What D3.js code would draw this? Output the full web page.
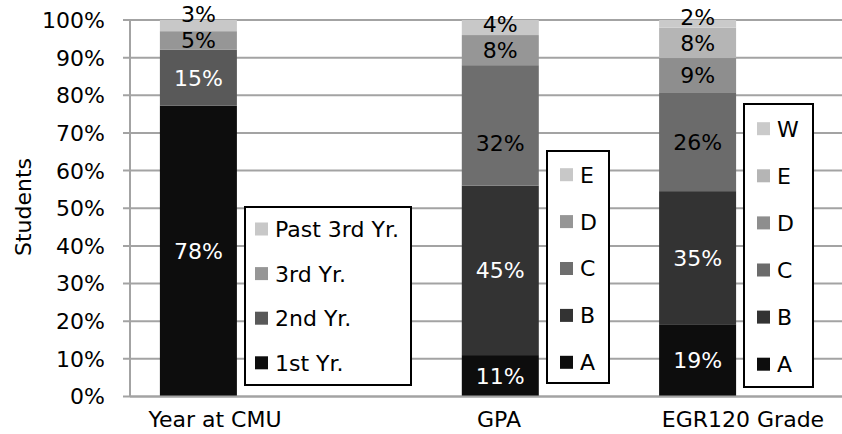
<!DOCTYPE html>
<html><head><meta charset="utf-8">
<script src="https://cdn.jsdelivr.net/npm/d3@7"></script>
<style>body{margin:0;background:#fff} svg{display:block} text{font-family:"DejaVu Sans","Liberation Sans",Arial,sans-serif}</style>
</head><body><svg id="c" width="842" height="434"></svg>
<script>
// ---- data ----
const categories = ["Year at CMU", "GPA", "EGR120 Grade"];
const yearSeries = ["1st Yr.", "2nd Yr.", "3rd Yr.", "Past 3rd Yr."];
const yearValues = [78, 15, 5, 3];
const gpaSeries = ["A", "B", "C", "D", "E"];
const gpaValues = [11, 45, 32, 8, 4];
const egrSeries = ["A", "B", "C", "D", "E", "W"];
const egrValues = [19, 35, 26, 9, 8, 2];
const yTickValues = [0, 0.1, 0.2, 0.3, 0.4, 0.5, 0.6, 0.7, 0.8, 0.9, 1];
const yTitle = "Students";

// ---- styles / layout ----
const yearColors = ["#0d0d0d", "#595959", "#969696", "#c8c8c8"];
const gpaColors = ["#0d0d0d", "#333333", "#6e6e6e", "#969696", "#c8c8c8"];
const egrColors = ["#0d0d0d", "#333333", "#6b6b6b", "#8e8e8e", "#b5b5b5", "#cacaca"];
// manual label nudges (px, downwards) as in the reference
const labelNudge = {"GPA|C": 18};
const groups = [
  {cat: categories[0], series: yearSeries, values: yearValues, colors: yearColors,
   legend: {x: 245, y: 207, w: 166, h: 178, first: 229, step: 44.6, pad: 10}},
  {cat: categories[1], series: gpaSeries, values: gpaValues, colors: gpaColors,
   legend: {x: 547, y: 151, w: 62, h: 232, first: 174.7, step: 46.9, pad: 13}},
  {cat: categories[2], series: egrSeries, values: egrValues, colors: egrColors,
   legend: {x: 744, y: 104, w: 69, h: 283, first: 128.7, step: 47.1, pad: 13}}
];

const svg = d3.select("#c");
const axisX = 130, right = 842;
const y = d3.scaleLinear().domain([0, 1]).range([396.5, 20]);
const xBar = d3.scaleOrdinal().domain(categories).range([198.4, 500.3, 697.6]);
const xLab = d3.scaleOrdinal().domain(categories).range([215, 499, 743]);
const barW = 77;
const fs = 22;
const minLabelGap = 26;

// gridlines
svg.append("g").selectAll("line").data(yTickValues).join("line")
  .attr("x1", axisX - 7).attr("x2", right)
  .attr("y1", d => y(d)).attr("y2", d => y(d))
  .attr("stroke", "#a3a3a3").attr("stroke-width", 2);
// y axis line
svg.append("line").attr("x1", axisX).attr("x2", axisX).attr("y1", y(1)).attr("y2", y(0))
  .attr("stroke", "#a3a3a3").attr("stroke-width", 2);
// tick labels
svg.append("g").selectAll("text").data(yTickValues).join("text")
  .attr("x", 105).attr("y", d => y(d)).attr("dy", "0.36em")
  .attr("text-anchor", "end").attr("font-size", fs).attr("fill", "#000")
  .text(d => d3.format(".0%")(d));
// y title
svg.append("text").attr("transform", "translate(31,207) rotate(-90)")
  .attr("text-anchor", "middle").attr("font-size", fs).text(yTitle);

// bars
groups.forEach(g => {
  const total = d3.sum(g.values);
  let cum = 0;
  const segs = g.values.map((v, i) => {
    const s = {v, y0: cum / total, y1: (cum + v) / total, color: g.colors[i], name: g.series[i]};
    cum += v; return s;
  });
  // label positions: centered, pushed up to avoid collisions
  let prev = Infinity;
  segs.forEach(s => {
    const c = y((s.y0 + s.y1) / 2) + (labelNudge[g.cat + "|" + s.name] || 0);
    s.ly = Math.min(c, prev - minLabelGap);
    prev = s.ly;
  });
  const cx = xBar(g.cat);
  const gg = svg.append("g");
  gg.selectAll("rect").data(segs).join("rect")
    .attr("x", cx - barW / 2).attr("width", barW)
    .attr("y", d => y(d.y1)).attr("height", d => y(d.y0) - y(d.y1))
    .attr("fill", d => d.color);
  gg.selectAll("text").data(segs).join("text")
    .attr("x", cx).attr("y", d => d.ly).attr("dy", "0.36em")
    .attr("text-anchor", "middle").attr("font-size", fs)
    .attr("fill", d => d3.hsl(d.color).l < 0.4 ? "#fff" : "#000")
    .text(d => d.v + "%");
  // category label
  svg.append("text").attr("x", xLab(g.cat)).attr("y", 427)
    .attr("text-anchor", "middle").attr("font-size", fs).text(g.cat);
  // legend
  const L = g.legend;
  const lg = svg.append("g");
  lg.append("rect").attr("x", L.x).attr("y", L.y).attr("width", L.w).attr("height", L.h)
    .attr("fill", "#fff").attr("stroke", "#000").attr("stroke-width", 2);
  const items = segs.slice().reverse();
  const it = lg.selectAll("g.it").data(items).join("g").attr("class", "it")
    .attr("transform", (d, i) => `translate(${L.x + L.pad},${L.first + i * L.step})`);
  it.append("rect").attr("x", 0).attr("y", -6.5).attr("width", 13).attr("height", 13)
    .attr("fill", d => d.color);
  it.append("text").attr("x", 20).attr("y", 0).attr("dy", "0.36em")
    .attr("font-size", fs).text(d => d.name);
});
// x baseline
svg.append("line").attr("x1", axisX).attr("x2", right).attr("y1", y(0)).attr("y2", y(0))
  .attr("stroke", "#a3a3a3").attr("stroke-width", 2);
</script></body></html>
